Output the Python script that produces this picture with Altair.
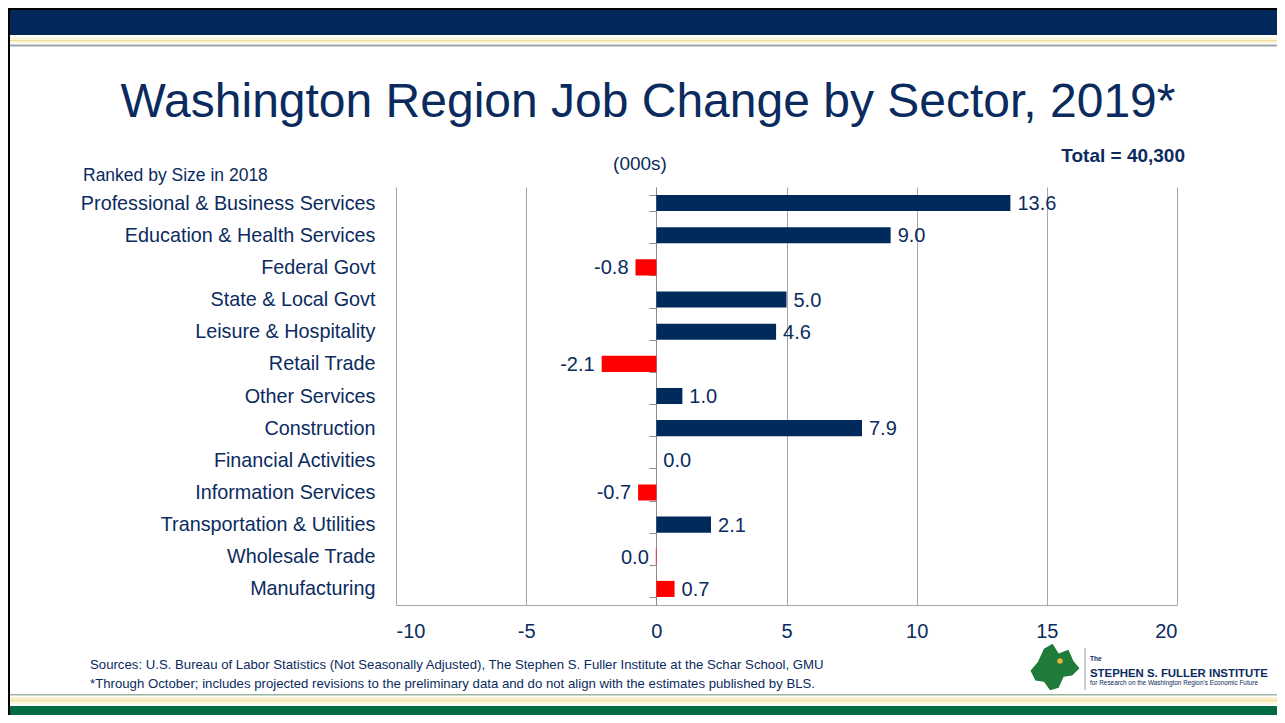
import altair as alt
import pandas as pd

# ---------------- data ----------------
sectors = [
    "Professional & Business Services",
    "Education & Health Services",
    "Federal Govt",
    "State & Local Govt",
    "Leisure & Hospitality",
    "Retail Trade",
    "Other Services",
    "Construction",
    "Financial Activities",
    "Information Services",
    "Transportation & Utilities",
    "Wholesale Trade",
    "Manufacturing",
]
changes = [13.6, 9.0, -0.8, 5.0, 4.6, -2.1, 1.0, 7.9, 0.0, -0.7, 2.1, -0.02, 0.7]
red_sectors = ["Federal Govt", "Retail Trade", "Information Services",
               "Wholesale Trade", "Manufacturing"]
x_ticks = [-10, -5, 0, 5, 10, 15, 20]

title_text = "Washington Region Job Change by Sector, 2019*"
units_text = "(000s)"
rank_text = "Ranked by Size in 2018"
total_text = "Total = 40,300"
source_1 = ("Sources: U.S. Bureau of Labor Statistics (Not Seasonally Adjusted), "
            "The Stephen S. Fuller Institute at the Schar School, GMU")
source_2 = ("*Through October; includes projected revisions to the preliminary data "
            "and do not align with the estimates published by BLS.")

df = pd.DataFrame({"sector": sectors, "value": changes})
df["tone"] = ["neg" if s in red_sectors else "pos" for s in sectors]
df["label"] = [f"{(0.0 if abs(v) < 0.05 else v):.1f}" for v in changes]

# ---------------- styling ----------------
NAVY = "#002A5C"
TEXT = "#0B2B5E"
RED = "#FF0000"
GRID = "#A6A6A6"
FONT = "Liberation Sans"

PLOT_L, PLOT_T = 396, 187          # page coordinates of the plot origin
W, H = 781, 418


def px(x):
    return x - PLOT_L


def py(y):
    return y - PLOT_T


dummy = pd.DataFrame({"d": [0]})


def rect(x1, x2, y1, y2, color):
    return alt.Chart(dummy).mark_rect(color=color).encode(
        x=alt.value(px(x1)), x2=alt.value(px(x2)),
        y=alt.value(py(y1)), y2=alt.value(py(y2)))


def txt(s, x, y, size, align="left", weight="normal", font=FONT, color=TEXT):
    return alt.Chart(dummy).mark_text(
        text=s, align=align, baseline="alphabetic", fontSize=size,
        fontWeight=weight, font=font, color=color).encode(
        x=alt.value(px(x)), y=alt.value(py(y)))


# ---------------- encodings ----------------
X = alt.X("value:Q",
          scale=alt.Scale(domain=[-10, 20], nice=False, zero=True),
          axis=alt.Axis(values=x_ticks, title=None, grid=True, gridColor=GRID,
                        domainColor=GRID, ticks=False, labelFontSize=20,
                        labelColor=TEXT, labelFont=FONT, labelPadding=16,
                        labelExpr="'' + datum.value"))
Y = alt.Y("sector:N", sort=sectors,
          scale=alt.Scale(paddingInner=0.5, paddingOuter=0.25),
          axis=alt.Axis(title=None, orient="left", offset=-(656 - PLOT_L),
                        domainColor="#8C8C8C", tickColor="#8C8C8C", tickSize=7,
                        tickBand="extent", labelPadding=274, labelFontSize=19.8,
                        labelColor=TEXT, labelFont=FONT, labelLimit=0,
                        grid=False))

bars = alt.Chart(df).mark_bar().encode(
    x=X, y=Y,
    color=alt.Color("tone:N", scale=alt.Scale(domain=["pos", "neg"],
                                              range=[NAVY, RED]), legend=None))

pos_labels = alt.Chart(df).transform_filter("datum.value >= 0").mark_text(
    align="left", baseline="middle", dx=7, dy=1, fontSize=20, font=FONT,
    color=TEXT).encode(x=X, y=Y, text="label:N")

neg_labels = alt.Chart(df).transform_filter("datum.value < 0").mark_text(
    align="right", baseline="middle", dx=-7, dy=1, fontSize=20, font=FONT,
    color=TEXT).encode(x=X, y=Y, text="label:N")

# ---------------- decorations ----------------
deco = [
    rect(0, 1285, 0, 10, "#000000"),
    rect(10, 1285, 10, 35, "#00285A"),
    rect(10, 1285, 37.5, 39.5, "#FBF4D0"),
    rect(10, 1285, 40, 41.5, "#F2DF9C"),
    rect(10, 1285, 42, 43.5, "#FBF6DD"),
    rect(10, 1285, 44.5, 46.5, "#97A4AF"),
    rect(8, 10, 0, 723, "#000000"),
    rect(10, 1285, 694, 695.5, "#9BB5A2"),
    rect(10, 1285, 697, 699, "#FBF3D0"),
    rect(10, 1285, 699.5, 701.5, "#F3DE9C"),
    rect(10, 1285, 702, 704, "#FBF6DD"),
    rect(10, 1285, 706, 723, "#006A43"),
]

texts = [
    txt(title_text, 648, 117, 48, align="center"),
    txt(units_text, 640, 170, 19, align="center"),
    txt(rank_text, 83, 181, 17.5),
    txt(total_text, 1185, 162, 19, align="right", weight="bold"),
    txt(source_1, 90, 669, 13.2),
    txt(source_2, 90, 688, 13.2),
]

blob_path = ("M-1,0.15 L-0.7,-0.2 L-0.45,-0.75 L-0.1,-0.95 L0.15,-0.55 "
             "L0.55,-0.7 L0.75,-0.25 L1,0.05 L0.7,0.35 L0.35,0.4 L0.15,0.85 "
             "L-0.2,0.95 L-0.45,0.6 L-0.8,0.55 Z")
logo = [
    alt.Chart(dummy).mark_point(shape=blob_path, filled=True, size=2400,
                                color="#1E7B3A", opacity=1).encode(
        x=alt.value(px(1055)), y=alt.value(py(667))),
    alt.Chart(dummy).mark_point(shape="circle", filled=True, size=30,
                                color="#E8B43A", opacity=1).encode(
        x=alt.value(px(1060)), y=alt.value(py(661))),
    rect(1084.5, 1085.5, 648, 690, "#9AA0A6"),
    txt("The", 1090, 661, 6.5, weight="bold"),
    txt("STEPHEN S. FULLER INSTITUTE", 1090, 677, 11.4, weight="bold"),
    txt("for Research on the Washington Region's Economic Future", 1090, 685, 6.4),
]

chart = alt.layer(*deco, bars, pos_labels, neg_labels, *texts, *logo).properties(
    width=W, height=H,
    autosize=alt.AutoSizeParams(type="none"),
    padding={"left": PLOT_L - 8, "top": PLOT_T - 8,
             "right": 1277 - (PLOT_L + W), "bottom": 715 - (PLOT_T + H)},
    background="white",
).configure_view(stroke=None)

chart.save("out.html", embed_options={"renderer": "svg", "actions": False})
